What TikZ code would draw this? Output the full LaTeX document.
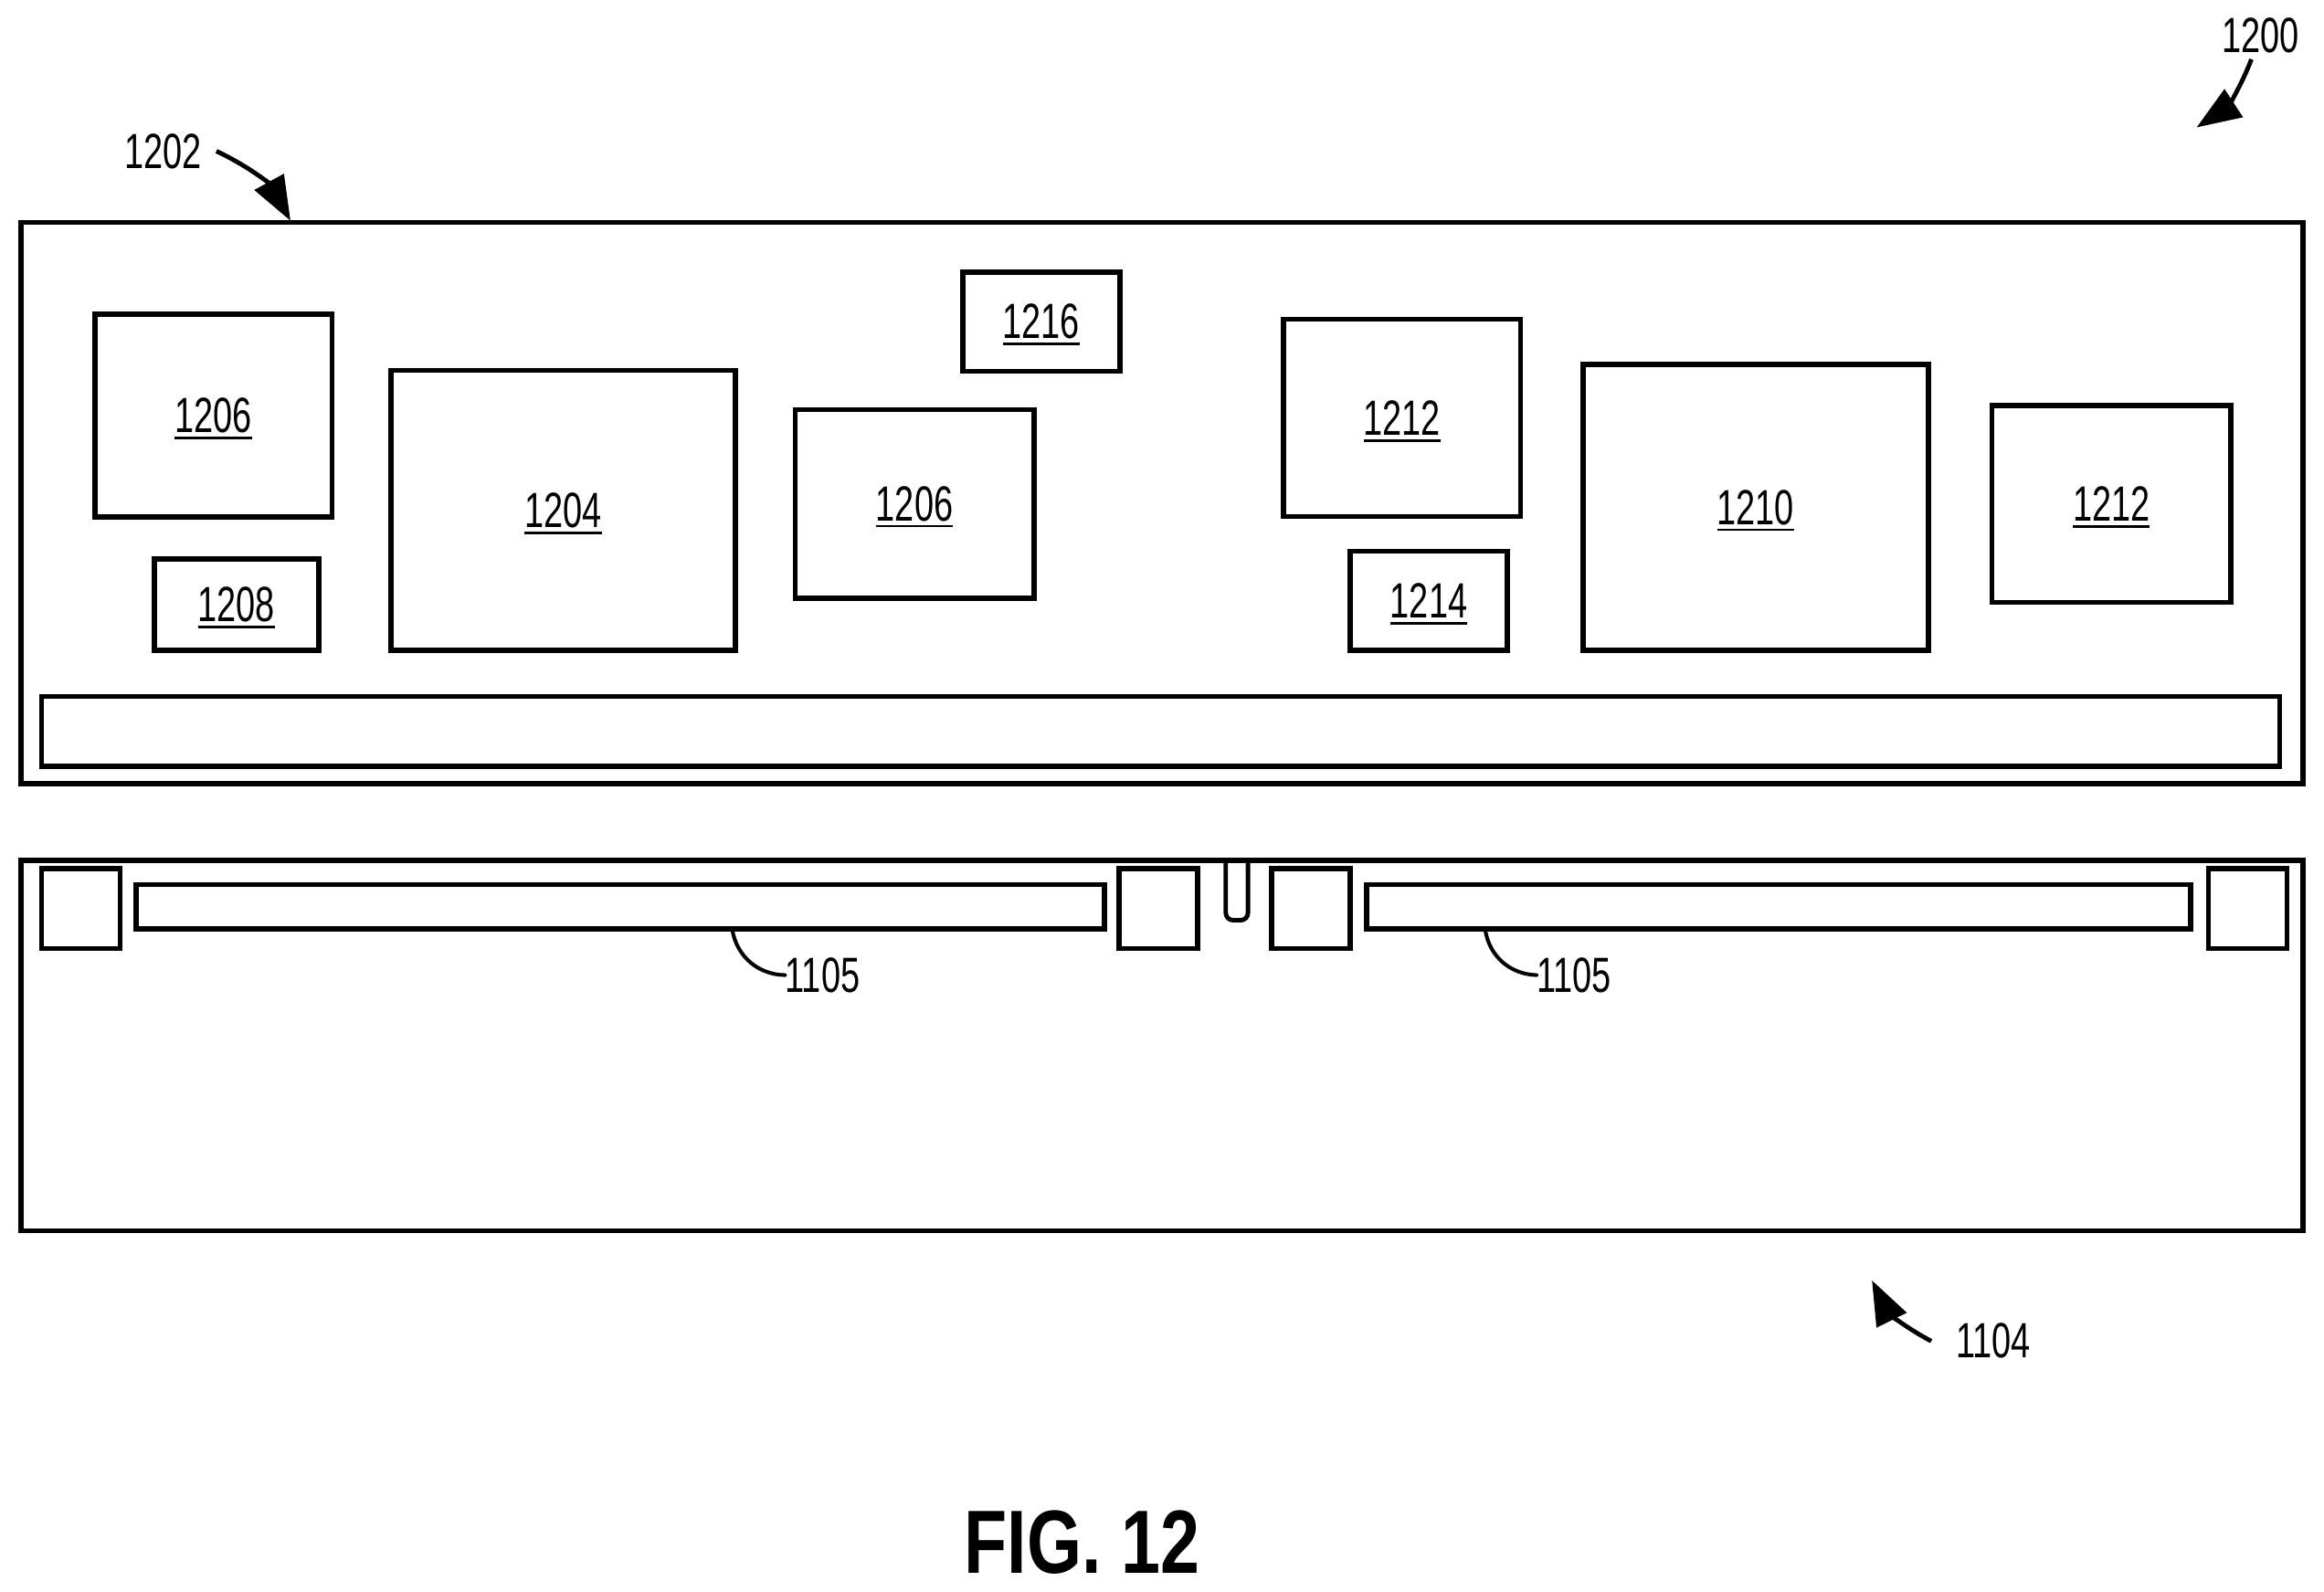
\documentclass[tikz,border=0pt]{standalone}
\usepackage{fontspec}
\setmainfont[FakeStretch=0.7]{Liberation Sans}
\newfontfamily\figfont[FakeStretch=0.785]{Liberation Sans Bold}
\usepackage{tikz}
\usetikzlibrary{arrows.meta}
\usetikzlibrary{positioning}

\newcommand{\partnum}[1]{\setbox0\hbox{#1}\rlap{\smash{\rule[-5pt]{\wd0}{2pt}}}\box0}

\tikzset{
	chip/.style n args={2}{draw, line width=1.4mm, inner sep=0pt, outer sep=0pt, font=\fontsize{38}{40}\selectfont, minimum width=#1*0.4mm, minimum height=#2*0.4mm},
	refnum/.style={inner sep=0pt, font=\fontsize{38}{40}\selectfont},
	pointer/.style={line width=1.2mm, -{Triangle[length=12mm,width=8.8mm]}},
	leader/.style={line width=1mm, line cap=round}
}

\begin{document}
\begin{tikzpicture}[x=0.4mm, y=-0.4mm]
	\useasboundingbox (0,0) rectangle (1568,1073.7);

	\node[chip={1540}{379}] (board) at (784,339.5) {};
	\node[chip={1510}{47}]  (bar)   at (783,493.5) {};

	\node[chip={160}{137}] (mod1206a) at (144,280.5)  {\partnum{1206}};
	\node[chip={111}{62}]  (mod1208)  at (159.5,408)  {\partnum{1208}};
	\node[chip={232}{189}] (mod1204)  at (380,344.5)  {\partnum{1204}};
	\node[chip={161}{127}] (mod1206b) at (617,340)    {\partnum{1206}};
	\node[chip={106}{67}]  (mod1216)  at (702.5,217)  {\partnum{1216}};
	\node[chip={160}{133}] (mod1212a) at (946,282)    {\partnum{1212}};
	\node[chip={106}{67}]  (mod1214)  at (964,405.5)  {\partnum{1214}};
	\node[chip={233}{193}] (mod1210)  at (1184.5,342.5) {\partnum{1210}};
	\node[chip={161}{133}] (mod1212b) at (1424.5,340) {\partnum{1212}};

	% Lower part
	\node[chip={1540}{250}] (base) at (784,705.5) {};
	\node[chip={53}{54}]  (padA)  at (54.5,613)   {};
	\node[chip={653}{30}] (slotA) at (418.5,612)  {};
	\node[chip={53}{54}]  (padB)  at (781.5,613)  {};
	\node[chip={53}{54}]  (padC)  at (884.5,613)  {};
	\node[chip={556}{30}] (slotB) at (1200,612)   {};
	\node[chip={53}{54}]  (padD)  at (1516.5,613) {};
	\draw[line width=1.2mm, rounded corners=2mm] (827,581) -- (827,621) -- (842,621) -- (842,581);

	% Reference numbers
	\node[refnum] (lbl1200) at (1525,24)  {1200};
	\node[refnum] (lbl1202) at (110,102)  {1202};
	\node[refnum] (lbl1104) at (1345,905) {1104};
	\node[refnum] (lbl1105a) at (555,658) {1105};
	\node[refnum] (lbl1105b) at (1062,658) {1105};
	\node[inner sep=0pt, font=\figfont\fontsize{69}{72}\selectfont] (figlabel) at (730,1041) {FIG. 12};

	\coordinate (tip1200) at (1482,86);
	\coordinate (tip1202) at (196,149);
	\coordinate (tip1104) at (1263,864);
	\coordinate (from1104) at (1303,905);
	\coordinate (from1200) at (1519,40);
	\coordinate (from1202) at (146,102);
	\coordinate (footA) at (494,627);
	\coordinate (footB) at (1002,627);

	% Connect the nodes
	\draw[pointer] (from1200) to[bend left=18] (tip1200);
	\draw[pointer] (from1202) to[bend left=18] (tip1202);
	\draw[pointer] (from1104) to[bend left=18] (tip1104);
	\draw[leader] (footA) to[bend right=40] (lbl1105a.west);
	\draw[leader] (footB) to[bend right=40] (lbl1105b.west);
\end{tikzpicture}
\end{document}
